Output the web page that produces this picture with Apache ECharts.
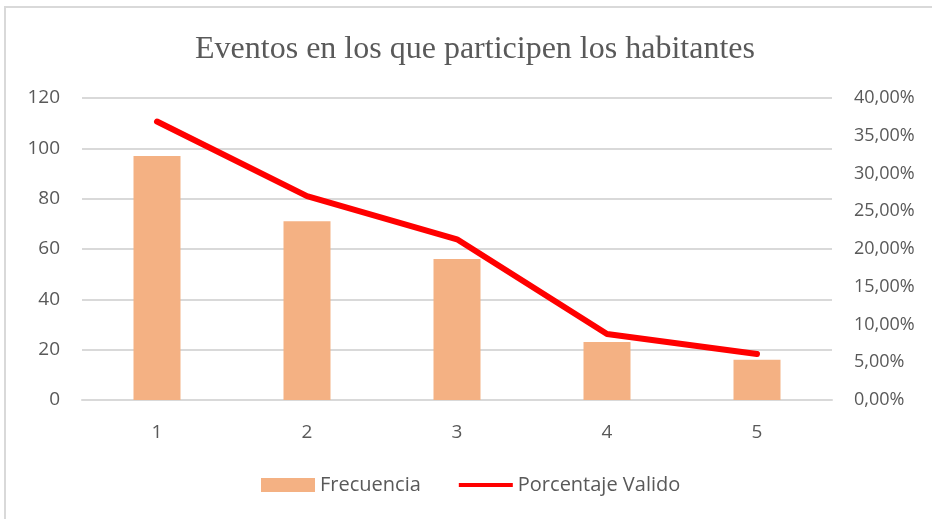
<!DOCTYPE html>
<html>
<head>
<meta charset="utf-8">
<script src="https://cdn.jsdelivr.net/npm/echarts@6/dist/echarts.min.js"></script>
<style>
  html, body { margin: 0; padding: 0; background: #fff; }
  #chart { width: 932px; height: 519px; }
</style>
</head>
<body>
<div id="chart"></div>
<script>
// datos
const categorias = ["1", "2", "3", "4", "5"];
const frecuencia = [97, 71, 56, 23, 16];
const porcentajeValido = [36.88, 27.0, 21.29, 8.75, 6.08];

const gris = "#595959";
const chart = echarts.init(document.getElementById("chart"));

chart.setOption({
  backgroundColor: "#fff",
  animation: false,
  title: {
    text: "Eventos en los que participen los habitantes",
    left: 470,
    top: 29,
    textAlign: "center",
    textStyle: {
      fontFamily: "Liberation Serif",
      fontSize: 32,
      fontWeight: "normal",
      color: gris,
    },
  },
  // borde del area del grafico
  graphic: [
    {
      type: "polyline",
      shape: { points: [[5, 519], [5, 7], [932, 7]] },
      style: { stroke: "#d9d9d9", lineWidth: 2, fill: null },
      silent: true,
    },
  ],
  legend: {
    bottom: 19,
    left: 256,
    itemGap: 38,
    itemWidth: 54,
    itemHeight: 14,
    textStyle: { color: gris, fontSize: 20, fontFamily: "Open Sans" },
    data: [
      { name: "Frecuencia", icon: "rect" },
      { name: "Porcentaje Valido", icon: "path://M0,0 L54,0 L54,4 L0,4 Z" },
    ],
  },
  grid: {
    left: 82,
    right: 100,
    top: 98,
    bottom: 119,
  },
  xAxis: {
    type: "category",
    data: categorias,
    axisLine: { lineStyle: { color: "#d9d9d9", width: 2 } },
    axisTick: { show: false },
    axisLabel: {
      color: gris,
      fontSize: 19,
      fontFamily: "Open Sans",
      margin: 23,
    },
  },
  yAxis: [
    {
      type: "value",
      min: 0,
      max: 120,
      interval: 20,
      axisLine: { show: false },
      axisTick: { show: false },
      splitLine: { lineStyle: { color: "#d9d9d9", width: 2 } },
      axisLabel: {
        color: gris,
        fontSize: 19,
        fontFamily: "Open Sans",
        margin: 22,
      },
    },
    {
      type: "value",
      min: 0,
      max: 40,
      interval: 5,
      axisLine: { show: false },
      axisTick: { show: false },
      splitLine: { show: false },
      axisLabel: {
        color: gris,
        fontSize: 18,
        fontFamily: "Open Sans",
        margin: 22,
        formatter: (v) => v.toFixed(2).replace(".", ",") + "%",
      },
    },
  ],
  series: [
    {
      name: "Frecuencia",
      type: "bar",
      data: frecuencia,
      barWidth: 47,
      itemStyle: { color: "#f4b183" },
    },
    {
      name: "Porcentaje Valido",
      type: "line",
      yAxisIndex: 1,
      data: porcentajeValido,
      symbol: "none",
      lineStyle: { color: "#ff0000", width: 6, cap: "round", join: "round" },
      itemStyle: { color: "#ff0000" },
    },
  ],
});
</script>
</body>
</html>
